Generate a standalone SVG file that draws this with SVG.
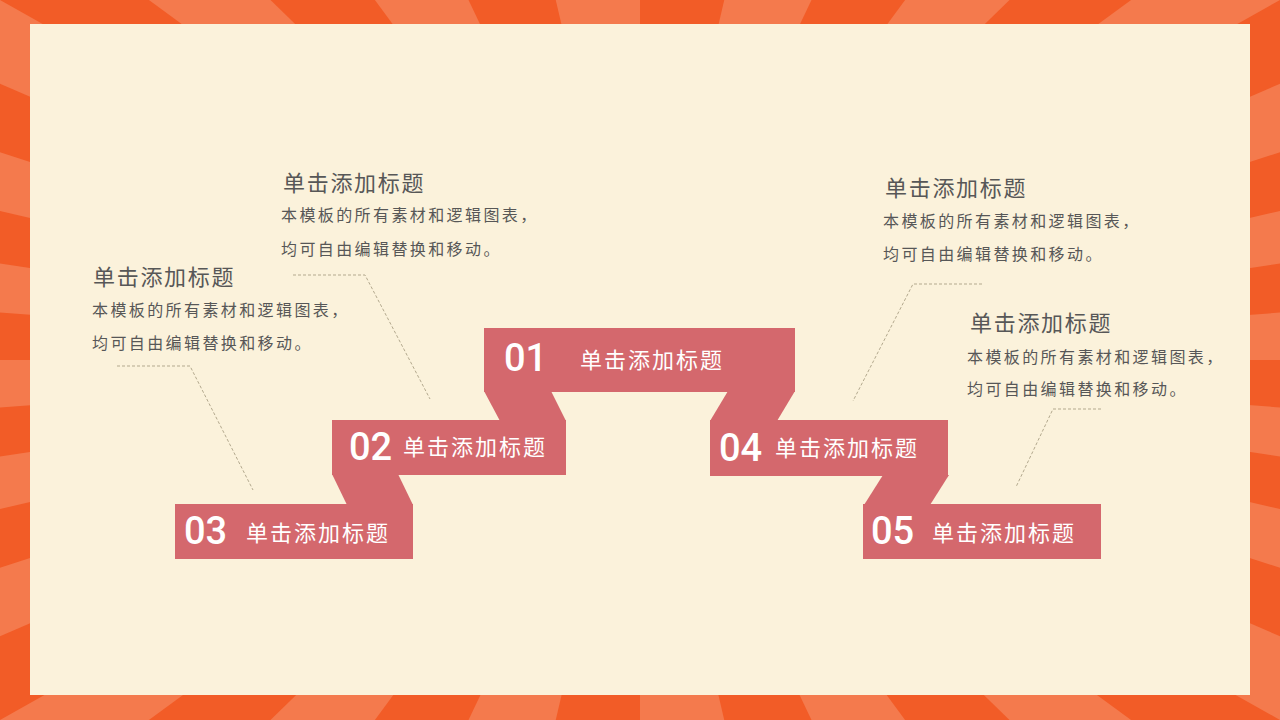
<svg xmlns="http://www.w3.org/2000/svg" xmlns:xlink="http://www.w3.org/1999/xlink" width="1280" height="720" viewBox="0 0 1280 720">
  <defs>
    <style>
      .ray { fill: #F47A4D; }
      .rib { fill: #D4686D; }
      .num { font-family: Roboto, "Liberation Sans", sans-serif; font-size: 38px; font-weight: 500; fill: #FFFFFF; }
      .lab { font-family: "Noto Sans CJK SC", "Noto Sans", sans-serif; font-size: 22px; letter-spacing: 2px; fill: #FFFFFF; }
      .ttl { font-family: "Noto Sans CJK SC", "Noto Sans", sans-serif; font-size: 22px; letter-spacing: 1.7px; fill: #575757; }
      .bd { font-family: "Noto Sans CJK SC", "Noto Sans", sans-serif; font-size: 16px; letter-spacing: 2.4px; fill: #575757; }
      .lead { fill: none; stroke: #B3A98E; stroke-width: 1; stroke-dasharray: 3 2; }
    </style>
    <path id="w" d="M0 0 L78.32 -594.87 L155.29 -579.56 Z"/>
  </defs>

  <!-- background sunburst -->
  <rect x="0" y="0" width="1280" height="720" fill="#F25C27"/>
  <g class="ray" transform="translate(640 360) scale(1.77778 1)">
    <use xlink:href="#w" transform="rotate(0)"/>
    <use xlink:href="#w" transform="rotate(15)"/>
    <use xlink:href="#w" transform="rotate(30)"/>
    <use xlink:href="#w" transform="rotate(45)"/>
    <use xlink:href="#w" transform="rotate(60)"/>
    <use xlink:href="#w" transform="rotate(75)"/>
    <use xlink:href="#w" transform="rotate(90)"/>
    <use xlink:href="#w" transform="rotate(105)"/>
    <use xlink:href="#w" transform="rotate(120)"/>
    <use xlink:href="#w" transform="rotate(135)"/>
    <use xlink:href="#w" transform="rotate(150)"/>
    <use xlink:href="#w" transform="rotate(165)"/>
    <use xlink:href="#w" transform="rotate(180)"/>
    <use xlink:href="#w" transform="rotate(195)"/>
    <use xlink:href="#w" transform="rotate(210)"/>
    <use xlink:href="#w" transform="rotate(225)"/>
    <use xlink:href="#w" transform="rotate(240)"/>
    <use xlink:href="#w" transform="rotate(255)"/>
    <use xlink:href="#w" transform="rotate(270)"/>
    <use xlink:href="#w" transform="rotate(285)"/>
    <use xlink:href="#w" transform="rotate(300)"/>
    <use xlink:href="#w" transform="rotate(315)"/>
    <use xlink:href="#w" transform="rotate(330)"/>
    <use xlink:href="#w" transform="rotate(345)"/>
  </g>
  <rect x="30" y="24" width="1220" height="671" fill="#FBF2DB"/>

  <!-- ribbon folds -->
  <g id="folds" class="rib">
    <polygon points="484,391 551,391 566,421 500,421"/>
    <polygon points="332,474 398,474 413,505 347,505"/>
    <polygon points="728,391 795,391 777,421 710,421"/>
    <polygon points="883,475 949,475 930,505 864,505"/>
  </g>

  <!-- ribbon steps -->
  <g id="step01">
    <rect class="rib" x="484" y="328" width="311" height="64"/>
    <text class="num" x="504" y="371">01</text>
    <text class="lab" x="580" y="368">单击添加标题</text>
  </g>
  <g id="step02">
    <rect class="rib" x="332" y="420" width="234" height="55"/>
    <text class="num" x="349" y="460">02</text>
    <text class="lab" x="403" y="455">单击添加标题</text>
  </g>
  <g id="step03">
    <rect class="rib" x="175" y="504" width="238" height="55"/>
    <text class="num" x="184" y="544">03</text>
    <text class="lab" x="246" y="541">单击添加标题</text>
  </g>
  <g id="step04">
    <rect class="rib" x="710" y="420" width="238" height="56"/>
    <text class="num" x="719" y="461">04</text>
    <text class="lab" x="775" y="456">单击添加标题</text>
  </g>
  <g id="step05">
    <rect class="rib" x="863" y="504" width="238" height="55"/>
    <text class="num" x="871" y="544">05</text>
    <text class="lab" x="932" y="541">单击添加标题</text>
  </g>

  <!-- leader lines -->
  <g id="connectors">
    <polyline class="lead" points="293,275 365,275 430,399"/>
    <polyline class="lead" points="117,366 190,366 253,490"/>
    <polyline class="lead" points="982,284 913,284 853,401"/>
    <polyline class="lead" points="1101,409 1053,409 1016,487"/>
  </g>

  <!-- text blocks -->
  <g id="note-a">
    <text class="ttl" x="283" y="191">单击添加标题</text>
    <text class="bd" x="281" y="221">本模板的所有素材和逻辑图表，</text>
    <text class="bd" x="281" y="255">均可自由编辑替换和移动。</text>
  </g>
  <g id="note-b">
    <text class="ttl" x="93" y="285">单击添加标题</text>
    <text class="bd" x="92" y="316">本模板的所有素材和逻辑图表，</text>
    <text class="bd" x="92" y="349">均可自由编辑替换和移动。</text>
  </g>
  <g id="note-c">
    <text class="ttl" x="885" y="196">单击添加标题</text>
    <text class="bd" x="883" y="227">本模板的所有素材和逻辑图表，</text>
    <text class="bd" x="883" y="260">均可自由编辑替换和移动。</text>
  </g>
  <g id="note-d">
    <text class="ttl" x="970" y="331">单击添加标题</text>
    <text class="bd" x="967" y="363">本模板的所有素材和逻辑图表，</text>
    <text class="bd" x="967" y="395">均可自由编辑替换和移动。</text>
  </g>
</svg>
